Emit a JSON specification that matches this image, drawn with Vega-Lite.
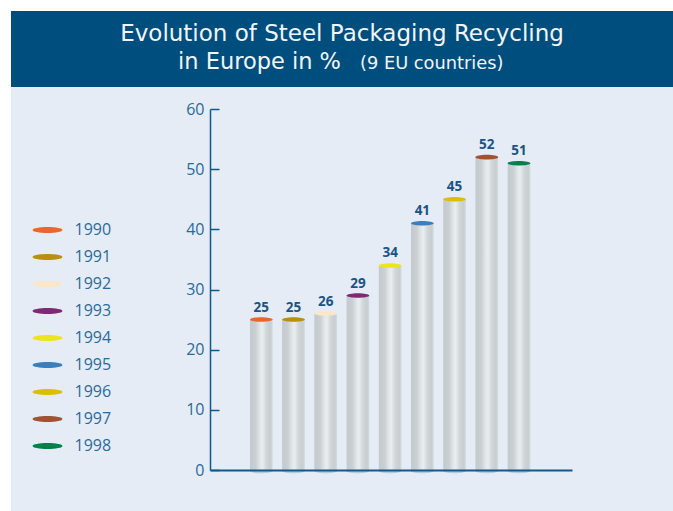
{
  "$schema": "https://vega.github.io/schema/vega-lite/v6.json",
  "background": "#ffffff",
  "padding": {"left": 11, "top": 11, "right": 0, "bottom": 0},
  "spacing": 0,
  "config": {"view": {"stroke": null}, "font": "Open Sans"},
  "vconcat": [
    {
      "width": 662,
      "height": 76,
      "view": {"fill": "#004E7E", "stroke": null},
      "data": {
        "values": [
          {"line": "1", "part": "head", "text": "Evolution of Steel Packaging Recycling"},
          {"line": "2", "part": "lead", "text": "in Europe in %"},
          {"line": "2", "part": "note", "text": "(9 EU countries)"}
        ]
      },
      "encoding": {
        "y": {"field": "line", "type": "ordinal", "scale": {"type": "point", "range": [30, 58], "padding": 0}, "axis": null},
        "text": {"field": "text"}
      },
      "layer": [
        {
          "transform": [{"filter": "datum.part === 'head'"}],
          "mark": {"type": "text", "align": "center", "baseline": "alphabetic", "font": "DejaVu Sans", "fontSize": 23, "color": "#F2F5F9"}
        },
        {
          "transform": [{"filter": "datum.part === 'lead'"}],
          "mark": {"type": "text", "align": "right", "dx": -1, "baseline": "alphabetic", "font": "DejaVu Sans", "fontSize": 22.5, "color": "#F2F5F9"}
        },
        {
          "transform": [{"filter": "datum.part === 'note'"}],
          "mark": {"type": "text", "align": "left", "dx": 18, "baseline": "alphabetic", "font": "DejaVu Sans", "fontSize": 17.8, "color": "#F2F5F9"}
        }
      ]
    },
    {
      "width": 662,
      "height": 424,
      "view": {"fill": "#E5ECF6", "stroke": null},
      "data": {
        "values": [
          {"year": 1990, "value": 25},
          {"year": 1991, "value": 25},
          {"year": 1992, "value": 26},
          {"year": 1993, "value": 29},
          {"year": 1994, "value": 34},
          {"year": 1995, "value": 41},
          {"year": 1996, "value": 45},
          {"year": 1997, "value": 52},
          {"year": 1998, "value": 51}
        ]
      },
      "encoding": {
        "x": {
          "field": "year",
          "type": "quantitative",
          "scale": {"domain": [1988.4074, 1999.6453], "range": [199, 561], "nice": false, "zero": false, "padding": 0},
          "axis": {"orient": "bottom", "offset": -41, "labels": false, "ticks": false, "title": null, "grid": false, "domainColor": "#0E5A8A", "domainWidth": 2, "zindex": 1}
        },
        "y": {
          "field": "value",
          "type": "quantitative",
          "scale": {"domain": [0, 60], "range": [383, 22], "nice": false, "padding": 0},
          "axis": {
            "orient": "left", "offset": -199, "values": [0, 10, 20, 30, 40, 50, 60], "title": null, "grid": false,
            "domainColor": "#0E5A8A", "domainWidth": 1.5, "tickColor": "#0E5A8A", "tickWidth": 1.5, "tickSize": -9,
            "labelPadding": 15, "labelFontSize": 16, "labelColor": "#2B6A98", "labelFont": "Open Sans"
          }
        }
      },
      "layer": [
        {
          "mark": {"type": "point", "filled": true, "shape": "M-2,0A2,0.4 0 1,0 2,0A2,0.4 0 1,0 -2,0Z", "size": 129, "color": "#A9C2DB", "opacity": 0.8, "yOffset": 1},
          "encoding": {"y": {"datum": 0}}
        },
        {
          "mark": {
            "type": "bar",
            "width": 22.7,
            "color": {
              "gradient": "linear", "x1": 0, "x2": 1, "y1": 0, "y2": 0,
              "stops": [
                {"offset": 0, "color": "#C3C9CD"},
                {"offset": 0.25, "color": "#C9CFD2"},
                {"offset": 0.45, "color": "#E3E7EA"},
                {"offset": 0.55, "color": "#E9EDEF"},
                {"offset": 0.72, "color": "#D1D6D9"},
                {"offset": 0.9, "color": "#C7CDD0"},
                {"offset": 1, "color": "#D6DBDE"}
              ]
            }
          },
          "encoding": {"y2": {"datum": 0}}
        },
        {
          "mark": {"type": "point", "filled": true, "opacity": 1, "shape": "M-2,0A2,0.4 0 1,0 2,0A2,0.4 0 1,0 -2,0Z", "size": 129},
          "encoding": {
            "color": {
              "field": "year",
              "type": "nominal",
              "scale": {
                "domain": [1990, 1991, 1992, 1993, 1994, 1995, 1996, 1997, 1998],
                "range": ["#E8672A", "#B98F0B", "#FBE7C6", "#7E2A72", "#ECE51C", "#3A7EBB", "#DCBF02", "#9F5330", "#00814A"]
              },
              "legend": {
                "orient": "none", "legendX": 28.5, "legendY": 211, "title": null,
                "symbolType": "M-2,0A2,0.4 0 1,0 2,0A2,0.4 0 1,0 -2,0Z", "symbolSize": 225, "symbolStrokeWidth": 0,
                "labelFontSize": 16, "labelFont": "Open Sans", "labelColor": "#2B6A98", "labelOffset": 19, "rowPadding": 11
              }
            }
          }
        },
        {
          "mark": {"type": "text", "dy": -8, "baseline": "alphabetic", "fontSize": 13.5, "fontWeight": "bold", "color": "#1B5384"},
          "encoding": {"text": {"field": "value", "type": "quantitative"}}
        }
      ]
    }
  ]
}
